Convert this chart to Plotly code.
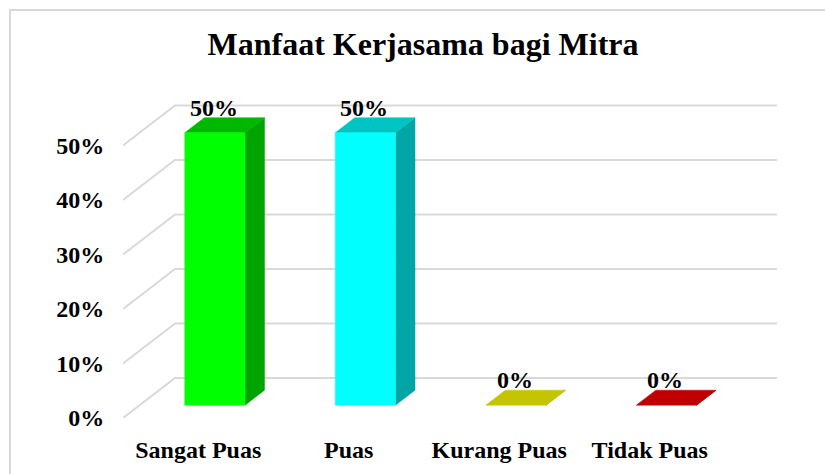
import plotly.graph_objects as go

# ---- data ----
categories = ["Sangat Puas", "Puas", "Kurang Puas", "Tidak Puas"]
values = [50, 50, 0, 0]
value_labels = ["50%", "50%", "0%", "0%"]
tick_values = [0, 10, 20, 30, 40, 50]
tick_labels = ["0%", "10%", "20%", "30%", "40%", "50%"]

# ---- styles ----
front_colors = ["#00ff00", "#00ffff", "#c8c800", "#c00000"]
top_colors = ["#00b800", "#00c4c4", "#c4c400", "#c00000"]
side_colors = ["#00a400", "#00a6a6", "#a8a800", "#a00000"]
FONT = "Liberation Serif, Times New Roman, serif"

# layout geometry (pixels)
W, H = 825, 474
L, R, T, B = 123, 780, 100, 418
PX_X = 150.5          # pixels per category
PX_Y = 5.45           # pixels per percent
DX = 52 / PX_X        # full depth shift in x units
DY = 40 / PX_Y        # full depth shift in y units
D0, D1 = 0.32, 0.695  # bar depth span (fraction of wall depth)
BW = 0.4              # bar width in category units

xmin = -0.5
xmax = xmin + (R - L) / PX_X
ymax = (B - T) / PX_Y

fig = go.Figure()

# gridlines: left wall diagonals + back wall horizontals
n = len(categories)
for v in tick_values:
    fig.add_trace(go.Scatter(
        x=[-0.5, -0.5 + DX, n - 0.5 + DX], y=[v, v + DY, v + DY],
        mode="lines", line=dict(color="#d9d9d9", width=2),
        hoverinfo="skip", showlegend=False))

ddx = (D1 - D0) * DX
ddy = (D1 - D0) * DY
for i, (cat, v) in enumerate(zip(categories, values)):
    cx = i + D0 * DX
    yb = D0 * DY
    yt = yb + v
    xl, xr = cx - BW / 2, cx + BW / 2
    # side face
    fig.add_trace(go.Scatter(
        x=[xr, xr, xr + ddx, xr + ddx, xr], y=[yb, yt, yt + ddy, yb + ddy, yb],
        fill="toself", fillcolor=side_colors[i], mode="lines",
        line=dict(color=side_colors[i], width=0.5),
        hoverinfo="skip", showlegend=False))
    # top face
    fig.add_trace(go.Scatter(
        x=[xl, xr, xr + ddx, xl + ddx, xl], y=[yt, yt, yt + ddy, yt + ddy, yt],
        fill="toself", fillcolor=top_colors[i], mode="lines",
        line=dict(color=top_colors[i], width=0.5),
        hoverinfo="skip", showlegend=False))
    # front face
    if v > 0:
        fig.add_trace(go.Scatter(
            x=[xl, xr, xr, xl, xl], y=[yb, yb, yt, yt, yb],
            fill="toself", fillcolor=front_colors[i], mode="lines",
            line=dict(color=front_colors[i], width=0.5),
            hoverinfo="skip", showlegend=False))
    fig.add_annotation(
        x=cx, y=yt, text="<b>" + value_labels[i] + "</b>", showarrow=False,
        yanchor="middle", yshift=25, xshift=-1,
        font=dict(family=FONT, size=24, color="#000000"))

fig.update_layout(
    width=W, height=H, autosize=False,
    margin=dict(l=L, r=W - R, t=T, b=H - B, pad=0),
    paper_bgcolor="white", plot_bgcolor="white",
    title=dict(text="<b>Manfaat Kerjasama bagi Mitra</b>", x=423 / W, xanchor="center",
               y=1 - 44 / H, yanchor="middle", yref="container",
               font=dict(family=FONT, size=32, color="#000000")),
    xaxis=dict(range=[xmin, xmax], tickmode="array", tickvals=list(range(n)),
               ticktext=["<b>" + c + "</b>" for c in categories],
               showgrid=False, zeroline=False, showline=False,
               ticks="outside", ticklen=10, tickcolor="rgba(0,0,0,0)",
               tickfont=dict(family=FONT, size=24, color="#000000")),
    yaxis=dict(range=[0, ymax], tickmode="array", tickvals=tick_values,
               ticktext=["<b>" + t + "</b>" for t in tick_labels],
               showgrid=False, zeroline=False, showline=False,
               ticks="outside", ticklen=13, tickcolor="rgba(0,0,0,0)",
               tickfont=dict(family=FONT, size=24, color="#000000")),
    shapes=[dict(type="rect", xref="paper", yref="paper",
                 x0=(10 - L) / (R - L), x1=(840 - L) / (R - L),
                 y0=(B - 490) / (B - T), y1=(B - 10) / (B - T),
                 line=dict(color="#d9d9d9", width=2), fillcolor="rgba(0,0,0,0)",
                 layer="below")],
)

fig.write_html("out.html", config={"displayModeBar": False},
               post_script="document.body.style.margin='0';document.body.style.overflow='hidden';")
